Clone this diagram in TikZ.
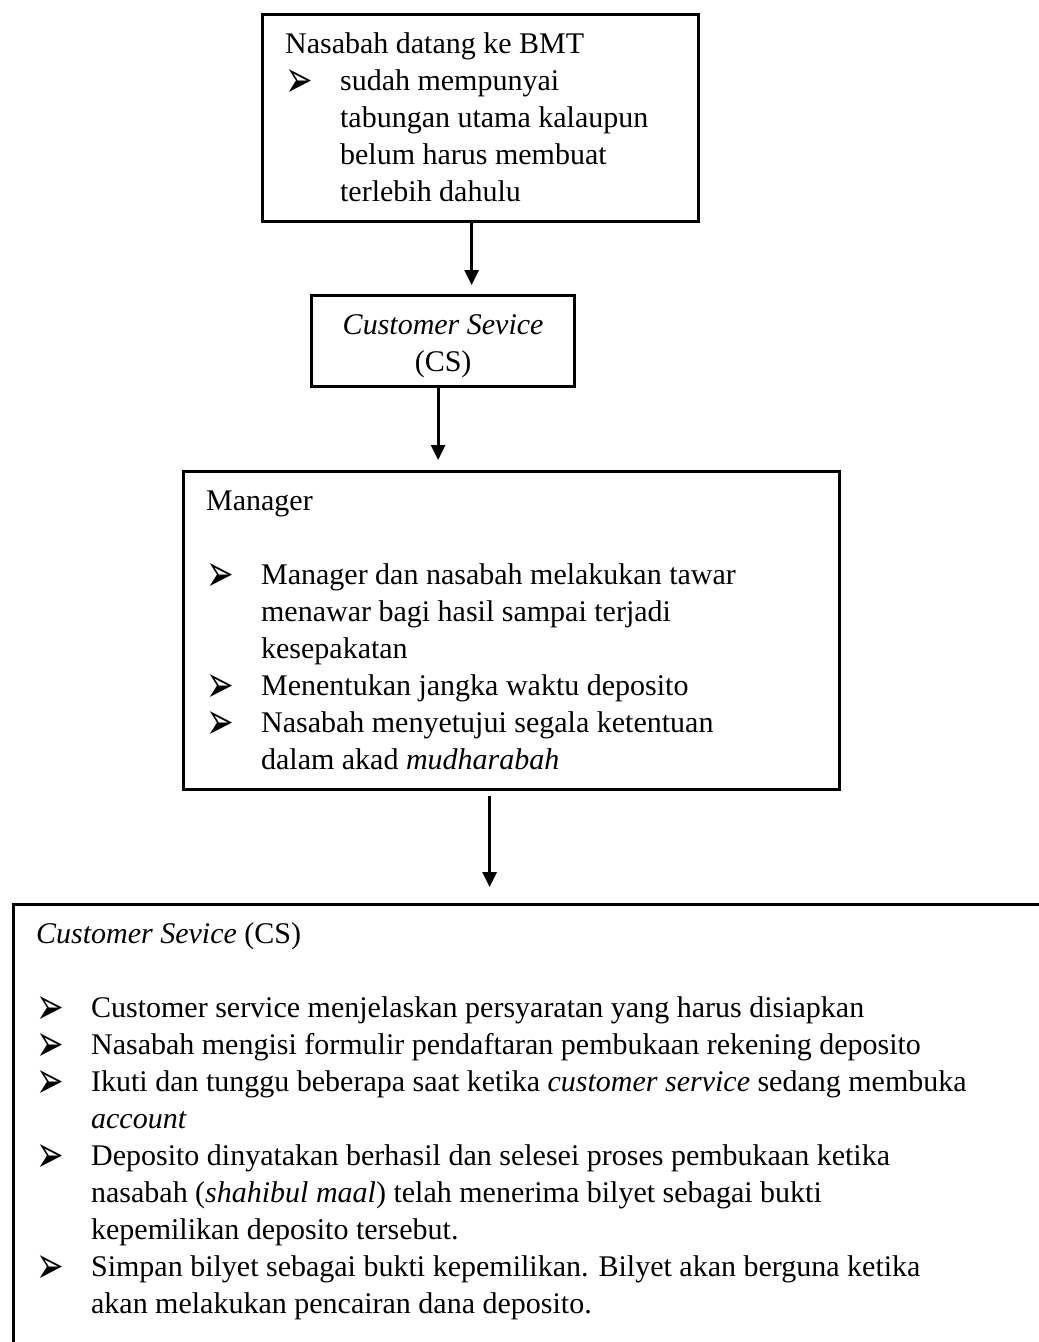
\documentclass[tikz,border=0pt]{standalone}
\usepackage{fontspec}
\usepackage{graphicx}
\setmainfont{Liberation Serif}
\newfontfamily\dingfont{DejaVu Sans}
\usetikzlibrary{arrows.meta,positioning}

\newcommand{\arrowbul}{\raisebox{-2.6pt}{\scalebox{1.1}[1.75]{\dingfont\fontsize{12pt}{12pt}\selectfont ➢}}}
\newcommand{\pointitem}[1]{\par\hangindent=22pt\hangafter=1\noindent\makebox[22pt][l]{\arrowbul}#1}
\newcommand{\boxtext}[3]{\parbox[t][#2][t]{#1}{\raggedright\rule{0pt}{15.6pt}#3}}

\begin{document}
\begin{tikzpicture}[x=0.4pt, y=-0.4pt,
    flowbox/.style={draw, line width=1.3pt, inner xsep=9pt, inner ysep=0pt, anchor=north west,
        font=\fontsize{12pt}{14.8pt}\selectfont},
    flowarrow/.style={line width=1.2pt, -{Triangle[length=6pt, width=5.6pt]}}]
    \useasboundingbox (0,0) rectangle (1039,1342);
    \clip (0,0) rectangle (1039,1342);
    % boxes
    \node[flowbox] (arrival) at (261,13) {\boxtext{156.4pt}{82.8pt}{Nasabah datang ke BMT
        \pointitem{sudah mempunyai\newline tabungan utama kalaupun\newline belum harus membuat\newline terlebih dahulu}}};
    \node[flowbox] (csfirst) at (310,294) {\parbox[t][36.4pt][t]{87.2pt}{\centering\rule{0pt}{15.6pt}\textit{Customer Sevice}\\ (CS)}};
    \node[flowbox] (manager) at (182,470) {\boxtext{244.4pt}{127.2pt}{Manager
        \par\vspace{14.8pt}
        \pointitem{Manager dan nasabah melakukan tawar\newline menawar bagi hasil sampai terjadi\newline kesepakatan}
        \pointitem{Menentukan jangka waktu deposito}
        \pointitem{Nasabah menyetujui segala ketentuan\newline dalam akad \textit{mudharabah}}}};
    \node[flowbox] (csopen) at (12,903) {\boxtext{405pt}{190.8pt}{\textit{Customer Sevice} (CS)
        \par\vspace{14.8pt}
        \pointitem{Customer service menjelaskan persyaratan yang harus disiapkan}
        \pointitem{Nasabah mengisi formulir pendaftaran pembukaan rekening deposito}
        \pointitem{Ikuti dan tunggu beberapa saat ketika \textit{customer service} sedang membuka\newline \textit{account}}
        \pointitem{Deposito dinyatakan berhasil dan selesei proses pembukaan ketika\newline nasabah (\textit{shahibul maal}) telah menerima bilyet sebagai bukti\newline kepemilikan deposito tersebut.}
        \pointitem{Simpan bilyet sebagai bukti kepemilikan. Bilyet akan berguna ketika\newline akan melakukan pencairan dana deposito.}}};
    % arrows
    \draw[flowarrow, shorten >=3.6pt] ([xshift=-3.6pt]arrival.south) -- ([xshift=-3.6pt]arrival.south |- csfirst.north);
    \draw[flowarrow, shorten >=4pt] ([xshift=-2pt]csfirst.south) -- ([xshift=-2pt]csfirst.south |- manager.north);
    \draw[flowarrow, shorten <=2pt, shorten >=6.4pt] ([xshift=-8.8pt]manager.south) -- ([xshift=-8.8pt]manager.south |- csopen.north);
\end{tikzpicture}
\end{document}
